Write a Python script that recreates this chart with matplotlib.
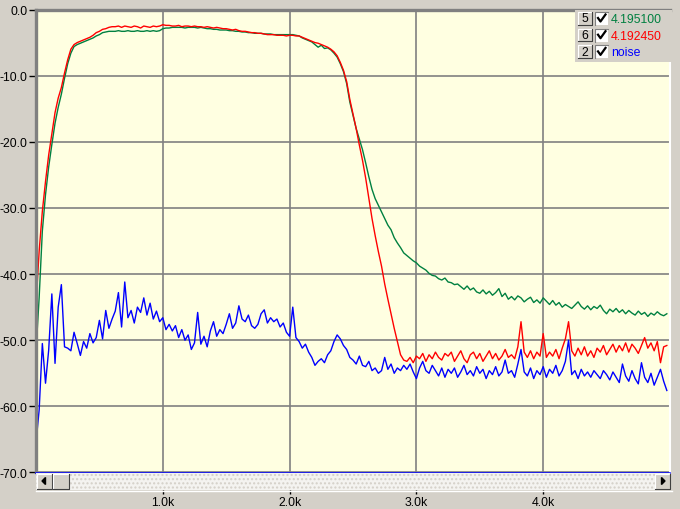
import numpy as np
import matplotlib
matplotlib.use('Agg')
import matplotlib.pyplot as plt
from matplotlib.patches import Rectangle, Polygon

plt.rcParams['font.family'] = ['Liberation Sans', 'DejaVu Sans']
plt.rcParams['font.size'] = 8.5

# frequency bins (Hz)
freq = np.arange(0, 5000, 25)

# trace "5" (green)
ch5 = [
    -51.7, -43.5, -33.5, -28.0, -23.8, -20.4, -17.2, -14.8, -12.8, -10.4,
    -8.2, -6.6, -5.6, -5.3, -5.1, -4.9, -4.7, -4.5, -4.3, -4.0,
    -3.8, -3.5, -3.4, -3.3, -3.3, -3.3, -3.2, -3.3, -3.3, -3.2,
    -3.3, -3.3, -3.2, -3.3, -3.3, -3.2, -3.3, -3.2, -3.3, -3.2,
    -2.9, -2.8, -2.8, -2.7, -2.7, -2.7, -2.7, -2.8, -2.7, -2.7,
    -2.7, -2.8, -2.7, -2.8, -2.9, -2.9, -3.0, -3.0, -3.1, -3.1,
    -3.1, -3.2, -3.2, -3.3, -3.3, -3.4, -3.4, -3.5, -3.5, -3.6,
    -3.6, -3.6, -3.7, -3.7, -3.7, -3.8, -3.8, -3.8, -3.8, -3.8,
    -3.8, -3.8, -3.9, -4.0, -4.3, -4.5, -4.7, -4.9, -5.3, -5.7,
    -5.4, -5.9, -5.8, -6.1, -6.6, -7.2, -8.2, -9.4, -11.2, -14.0,
    -16.0, -18.0, -19.6, -21.2, -23.2, -25.3, -27.2, -28.6, -29.6, -30.6,
    -31.6, -32.6, -33.3, -34.5, -35.3, -36.0, -36.8, -37.2, -37.6, -38.0,
    -38.3, -38.8, -39.1, -39.4, -39.9, -40.2, -40.3, -40.7, -40.9, -40.6,
    -41.2, -41.3, -41.6, -41.5, -41.9, -42.3, -41.8, -42.4, -42.1, -42.7,
    -42.9, -42.4, -43.0, -42.6, -43.2, -42.8, -42.2, -43.4, -42.9, -43.8,
    -43.4, -43.9, -43.3, -43.6, -44.2, -43.8, -43.5, -44.3, -43.9, -44.4,
    -43.6, -44.1, -44.6, -44.0, -44.7, -44.3, -45.0, -44.6, -44.9, -45.2,
    -44.7, -44.2, -44.9, -45.3, -44.8, -45.4, -44.9, -45.2, -44.7, -45.5,
    -46.0, -45.3, -45.7, -45.2, -45.8, -45.4, -46.0, -45.5, -45.9, -46.2,
    -45.6, -46.1, -45.8, -46.4, -45.9, -46.2, -45.7, -46.1, -46.3, -46.0,
]

# trace "6" (red)
ch6 = [
    -44.6, -36.5, -30.5, -26.0, -22.0, -18.8, -15.6, -13.4, -11.8, -9.6,
    -7.6, -6.0, -5.3, -5.0, -4.8, -4.6, -4.4, -4.2, -3.9, -3.5,
    -3.3, -3.0, -2.9, -2.7, -2.6, -2.6, -2.5, -2.7, -2.5, -2.6,
    -2.7, -2.5, -2.6, -2.8, -2.5, -2.6, -2.7, -2.5, -2.6, -2.5,
    -2.3, -2.4, -2.4, -2.5, -2.5, -2.4, -2.6, -2.5, -2.5, -2.6,
    -2.5, -2.6, -2.6, -2.7, -2.6, -2.7, -2.8, -2.7, -2.8, -2.9,
    -2.9, -3.0, -3.1, -3.0, -3.2, -3.3, -3.3, -3.4, -3.5, -3.5,
    -3.6, -3.6, -3.7, -3.8, -3.8, -3.8, -3.9, -3.9, -3.9, -4.0,
    -3.9, -3.9, -4.0, -4.0, -4.2, -4.4, -4.6, -4.8, -5.0, -5.1,
    -5.3, -5.5, -5.7, -6.0, -6.4, -7.0, -8.0, -9.2, -10.9, -13.6,
    -15.8, -18.0, -20.5, -22.8, -25.5, -28.6, -31.6, -34.2, -36.6, -38.8,
    -41.5, -43.8, -46.0, -48.2, -50.2, -52.2, -53.0, -53.2, -52.6, -53.4,
    -52.4, -52.8, -52.0, -53.2, -52.2, -52.8, -51.8, -52.6, -53.0, -52.0,
    -52.4, -51.8, -53.2, -52.4, -51.6, -52.8, -53.4, -52.2, -51.8, -52.8,
    -52.0, -53.2, -52.4, -51.6, -52.8, -52.0, -53.0, -52.4, -51.4, -52.6,
    -52.2, -52.8, -51.0, -47.2, -51.8, -52.6, -51.6, -52.8, -51.8, -52.4,
    -49.0, -52.6, -51.8, -52.4, -51.4, -52.8, -51.2, -49.8, -47.2, -51.6,
    -52.4, -51.2, -52.2, -51.0, -52.4, -51.6, -52.6, -51.2, -51.8, -50.8,
    -52.2, -51.4, -50.6, -51.8, -50.8, -51.6, -50.4, -51.8, -50.6, -51.2,
    -52.0, -50.8, -49.6, -51.2, -50.4, -51.6, -50.2, -53.4, -51.0, -50.8,
]

# trace "2" (noise, blue)
noise = [
    -65.5, -60.5, -50.5, -56.5, -51.5, -43.0, -53.5, -45.0, -41.6, -51.0,
    -51.2, -51.6, -48.8, -50.5, -52.3, -50.2, -51.2, -49.0, -50.4, -49.6,
    -47.0, -49.8, -45.5, -48.2, -46.8, -45.6, -42.8, -48.0, -41.2, -46.6,
    -45.5, -47.4, -45.0, -45.8, -43.6, -46.2, -44.4, -46.8, -45.6, -47.2,
    -46.6, -48.4, -47.6, -48.6, -47.8, -49.6, -48.4, -50.0, -49.2, -51.4,
    -50.4, -45.8, -50.6, -49.4, -51.0, -48.6, -47.2, -49.4, -48.4, -49.0,
    -47.6, -46.0, -48.2, -47.4, -44.8, -46.8, -47.2, -46.2, -47.8, -48.2,
    -47.6, -46.0, -45.4, -47.4, -46.6, -47.2, -46.8, -48.0, -47.4, -48.8,
    -49.4, -45.0, -49.6, -50.2, -51.2, -50.6, -51.8, -52.6, -53.8, -53.2,
    -52.8, -53.4, -52.2, -51.6, -50.2, -49.2, -49.8, -50.8, -51.4, -52.6,
    -53.0, -53.6, -52.4, -53.8, -54.0, -53.2, -54.6, -54.2, -55.0, -54.6,
    -52.6, -54.4, -53.6, -55.0, -54.2, -54.6, -53.8, -54.4, -53.6, -54.8,
    -55.8, -54.2, -53.2, -54.6, -55.0, -53.8, -54.6, -55.4, -54.2, -55.6,
    -54.4, -55.0, -54.2, -55.6, -54.8, -53.8, -55.2, -54.6, -55.4, -54.0,
    -55.0, -54.4, -55.8, -54.6, -55.2, -54.0, -55.4, -54.8, -53.0, -55.0,
    -54.6, -55.6, -53.6, -51.4, -54.8, -55.4, -54.2, -55.8, -54.6, -55.2,
    -54.0, -55.6, -54.4, -55.0, -53.8, -55.4, -54.6, -53.2, -50.0, -55.2,
    -54.6, -55.8, -54.4, -55.4, -54.8, -55.6, -54.6, -55.2, -55.8, -54.6,
    -55.2, -56.0, -54.8, -55.6, -56.4, -53.6, -55.4, -56.2, -54.6, -55.8,
    -56.6, -53.4, -55.6, -56.4, -55.0, -56.8, -55.6, -54.4, -56.2, -57.6,
]

trace_names = ['4.195100', '4.192450', 'noise']
trace_ids = ['5', '6', '2']
trace_colors = ['#008040', '#ff0000', '#0000ff']

y_ticks = [0, -10, -20, -30, -40, -50, -60, -70]
x_ticks = [1000, 2000, 3000, 4000]
x_labels = ['1.0k', '2.0k', '3.0k', '4.0k']

W, H = 680, 510
L, R, T, B = 36, 670, 10.5, 473.5
BG = '#d4d0c8'

fig = plt.figure(figsize=(6.8, 5.1), dpi=100, facecolor=BG)
ax = fig.add_axes([L / W, 1 - B / H, (R - L) / W, (B - T) / H])
ax.set_facecolor('#ffffe1')

for series, col in zip([ch5, ch6, noise], trace_colors):
    ax.plot(freq, series, color=col, lw=1.0)

ax.set_xlim(0, 5000)
ax.set_ylim(-70, 0)
ax.set_yticks(y_ticks)
ax.set_yticklabels([f'{v:.1f}' for v in y_ticks])
ax.set_xticks(x_ticks)
ax.tick_params(axis='x', length=0, labelbottom=False)
ax.tick_params(axis='y', length=5, width=1, color='black', pad=1, labelsize=8.8)
ax.grid(True, color='#808080', lw=1.2)

ax.spines['left'].set_color('#808080')
ax.spines['left'].set_linewidth(2.4)
ax.spines['top'].set_color('#808080')
ax.spines['top'].set_linewidth(2.4)
ax.spines['bottom'].set_color('#0000ff')
ax.spines['bottom'].set_linewidth(1.1)
ax.spines['right'].set_color('white')
ax.spines['right'].set_linewidth(1.5)

# frequency labels sit below the scrollbar
sec = ax.secondary_xaxis((B - 491) / (B - T))
sec.set_xticks(x_ticks, labels=x_labels)
sec.tick_params(length=3, width=1, color='black', pad=1, labelsize=8.8)
sec.spines['bottom'].set_visible(False)

# overlay in pixel coords for the window chrome
ov = fig.add_axes([0, 0, 1, 1], facecolor='none')
ov.set_xlim(0, W)
ov.set_ylim(H, 0)
ov.axis('off')


def button(x, y, w, h):
    ov.add_patch(Rectangle((x, y), w, h, facecolor=BG, edgecolor='none'))
    ov.plot([x, x, x + w], [y + h, y, y], color='white', lw=0.8)
    ov.plot([x, x + w, x + w], [y + h, y + h, y], color='#404040', lw=0.8)


# scrollbar
ov.add_patch(Rectangle((L, 474), R - L, 17, facecolor='#f4f3f0',
                       edgecolor=BG, hatch='....', lw=0))
ov.plot([L, R + 2], [491.5, 491.5], color='white', lw=1)
button(36.5, 474.5, 15.5, 15.5)
button(53, 474.5, 15.5, 15.5)
button(654.5, 474.5, 15, 15.5)
ov.add_patch(Polygon([[42, 482], [45.5, 478.5], [45.5, 485.5]], color='black'))
ov.add_patch(Polygon([[665, 482], [661.5, 478.5], [661.5, 485.5]], color='black'))

# legend panel
ov.add_patch(Rectangle((575, 10.5), 97, 52.5, facecolor=BG, edgecolor='none'))
for k, (num, name, col) in enumerate(zip(trace_ids, trace_names, trace_colors)):
    yc = 19.5 + k * 16.7
    button(578, yc - 6.5, 14, 12.5)
    ov.text(585, yc, num, ha='center', va='center', fontsize=8.8, color='black')
    ov.add_patch(Rectangle((595, yc - 6.5), 13, 13, facecolor='white',
                           edgecolor='none'))
    ov.plot([595, 595, 608], [yc + 6.5, yc - 6.5, yc - 6.5], color='#808080', lw=0.8)
    ov.plot([598, 600.5, 605.5], [yc - 0.5, yc + 3, yc - 4], color='black', lw=1.6)
    ov.text(611, yc + 0.5, name, ha='left', va='center', fontsize=8.8, color=col)

fig.savefig('out.png', dpi=100, facecolor=BG)
